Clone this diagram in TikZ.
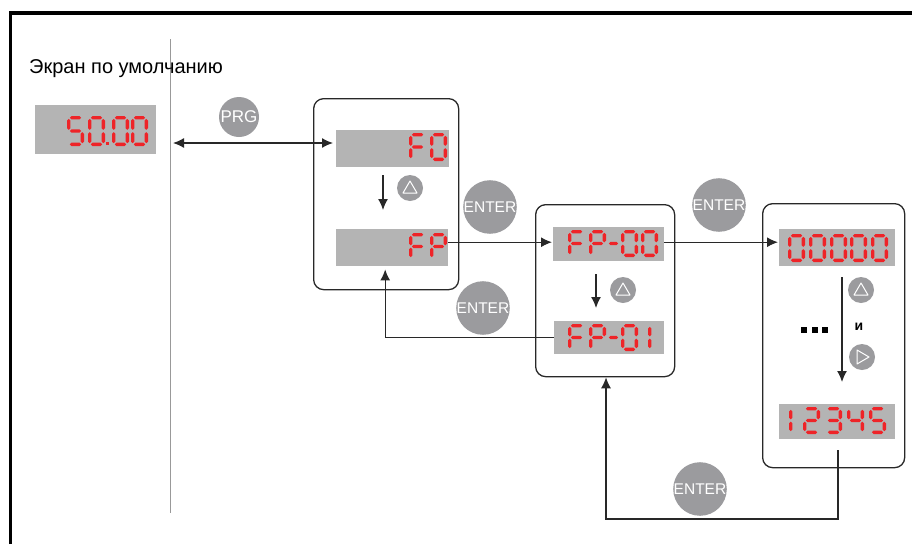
\documentclass[tikz,border=0pt]{standalone}
\usepackage{fontspec}
\setmainfont{Liberation Sans}
\usetikzlibrary{arrows.meta}
\definecolor{segred}{RGB}{238,36,40}
\definecolor{lcd}{RGB}{180,180,180}
\definecolor{btngray}{RGB}{155,155,158}
\definecolor{edge}{RGB}{40,40,40}
\def\sg{1.1}
\def\th{1.7}
% horizontal segment: x1, x2, y ; vertical segment: x, y1, y2
\newcommand\hseg[3]{\fill[segred] (#1,#3) -- (#1+\th,#3-\th) -- (#2-\th,#3-\th) -- (#2,#3) -- (#2-\th,#3+\th) -- (#1+\th,#3+\th) -- cycle;}
\newcommand\vseg[3]{\fill[segred] (#1,#2) -- (#1+\th,#2+\th) -- (#1+\th,#3-\th) -- (#1,#3) -- (#1-\th,#3-\th) -- (#1-\th,#2+\th) -- cycle;}
\newcommand\ssega{\hseg{\sg}{\dw-\sg}{0}}
\newcommand\ssegb{\vseg{\dw}{\sg}{\dm-\sg}}
\newcommand\ssegc{\vseg{\dw}{\dm+\sg}{\dh-\sg}}
\newcommand\ssegd{\hseg{\sg}{\dw-\sg}{\dh}}
\newcommand\ssege{\vseg{0}{\dm+\sg}{\dh-\sg}}
\newcommand\ssegf{\vseg{0}{\sg}{\dm-\sg}}
\newcommand\ssegg{\hseg{\sg}{\dw-\sg}{\dm}}
\newcommand\sevseg[5]{%
  \begin{scope}[shift={(#1+1.7,#2+1.7)}]
    \pgfmathsetmacro\dw{#3-3.4}\pgfmathsetmacro\dh{#4-3.4}\pgfmathsetmacro\dm{\dh/2}
    \foreach \s in {#5}{\csname sseg\s\endcsname}
  \end{scope}}
\newcommand\uptri[1]{\draw[tri] ([shift={(-7,5)}]#1.center) -- ++(14,0) -- ++(-7,-12) -- cycle;}
\newcommand\righttri[1]{\draw[tri] ([shift={(-5,-7)}]#1.center) -- ++(0,14) -- ++(12,-7) -- cycle;}
\begin{document}
\begin{tikzpicture}[x=1pt,y=-1pt,
  lcdbox/.style={fill=lcd, inner sep=0, anchor=north west},
  panel/.style={draw=edge, line width=1.3pt, rounded corners=10pt, inner sep=0, anchor=north west},
  btn/.style={circle, fill=btngray, text=white, inner sep=0},
  prgbtn/.style={btn, minimum size=40pt, font=\fontsize{17}{20}\selectfont},
  entbtn/.style={btn, minimum size=50pt, font=\fontsize{15.5}{18}\selectfont},
  smallbtn/.style={btn, minimum size=26pt},
  tri/.style={draw=white, line width=1pt, line join=round},
  tip/.tip={Latex[length=11pt,width=10pt]},
  arr/.style={draw=edge, line width=1.3pt, -tip},
  darr/.style={draw=edge, line width=1.3pt, tip-tip}]
\useasboundingbox (0,0) rectangle (912,544);
% frame
\draw[line width=3.5pt] (10.5,544) -- (10.5,13) -- (912,13);
% separator
\draw[gray!80, line width=1pt] (170,39) -- (170,513);
% title
\node[anchor=base west, inner sep=0, font=\fontsize{20}{24}\selectfont] (title) at (29,73) {Экран по умолчанию};
% displays and panels
\node[lcdbox, minimum width=121pt, minimum height=49pt] (def) at (35,105) {};
\node[panel, minimum width=145pt, minimum height=191pt] (box1) at (313,98) {};
\node[lcdbox, minimum width=113pt, minimum height=37pt] (F0) at (336,130) {};
\node[lcdbox, minimum width=112pt, minimum height=37pt] (FP) at (336,229) {};
\node[panel, minimum width=139pt, minimum height=172pt] (box2) at (535,204) {};
\node[lcdbox, minimum width=111pt, minimum height=34pt] (FP00) at (553,227) {};
\node[lcdbox, minimum width=110pt, minimum height=33pt] (FP01) at (554,321) {};
\node[panel, minimum width=142pt, minimum height=264pt] (box3) at (762,203) {};
\node[lcdbox, minimum width=116pt, minimum height=37pt] (Z) at (779,229) {};
\node[lcdbox, minimum width=116pt, minimum height=35pt] (N) at (779,404) {};
% digits 50.00
\sevseg{67}{116}{17}{30}{a,f,g,c,d}
\sevseg{88}{116}{17}{30}{a,b,c,d,e,f}
\fill[segred] (106,142) rectangle (109,145);
\sevseg{112}{116}{17}{30}{a,b,c,d,e,f}
\sevseg{131}{116}{17}{30}{a,b,c,d,e,f}
% F0
\sevseg{409}{133}{17}{28}{a,f,e,g}
\sevseg{430}{133}{17}{28}{a,b,c,d,e,f}
% FP
\sevseg{409}{233}{17}{27}{a,f,e,g}
\sevseg{430}{233}{17}{27}{a,b,f,g,e}
% FP-00
\sevseg{568}{230}{17}{27}{a,f,e,g}
\sevseg{589}{230}{17}{27}{a,b,f,g,e}
\sevseg{606}{230}{15}{27}{g}
\sevseg{621}{230}{17}{27}{a,b,c,d,e,f}
\sevseg{641}{230}{17}{27}{a,b,c,d,e,f}
% FP-01
\sevseg{568}{324}{17}{27}{a,f,e,g}
\sevseg{589}{324}{17}{27}{a,b,f,g,e}
\sevseg{606}{324}{15}{27}{g}
\sevseg{621}{324}{17}{27}{a,b,c,d,e,f}
\sevseg{648}{324}{17}{27}{e,f}
% 00000
\sevseg{788}{234}{17}{28}{a,b,c,d,e,f}
\sevseg{809}{234}{17}{28}{a,b,c,d,e,f}
\sevseg{830}{234}{17}{28}{a,b,c,d,e,f}
\sevseg{850}{234}{17}{28}{a,b,c,d,e,f}
\sevseg{871}{234}{17}{28}{a,b,c,d,e,f}
% 12345
\sevseg{789}{407}{17}{27}{e,f}
\sevseg{803}{407}{17}{27}{a,b,g,e,d}
\sevseg{825}{407}{17}{27}{a,b,g,c,d}
\sevseg{847}{407}{17}{27}{f,g,b,c}
\sevseg{869}{407}{17}{27}{a,f,g,c,d}
% buttons
\node[prgbtn] (prg) at (239,117) {PRG};
\node[entbtn] (ent1) at (490,207) {ENTER};
\node[entbtn] (ent2) at (483,308) {ENTER};
\node[entbtn] (ent3) at (719,205) {ENTER};
\node[entbtn] (ent4) at (700,489) {ENTER};
\node[smallbtn] (up1) at (410,188) {};
\node[smallbtn] (up2) at (623,290) {};
\node[smallbtn] (up3) at (861,290) {};
\node[smallbtn] (rt) at (862,357) {};
\uptri{up1}\uptri{up2}\uptri{up3}\righttri{rt}
\node[font=\bfseries\fontsize{14}{16}\selectfont, inner sep=0] (und) at (859,327) {и};
\fill (801,327) rectangle ++(6,6);
\fill (811.5,327) rectangle ++(6,6);
\fill (822,327) rectangle ++(6,6);
% connectors
\coordinate (L) at (173,143);
\draw[darr, shorten >=3pt] (L) -- (L -| F0.west);
\draw[arr, shorten >=1pt] ([yshift=5.5pt]FP.east) -- ([yshift=5.5pt]FP.east -| FP00.west);
\draw[arr, shorten >=1pt] ([yshift=2pt]FP00.east) -- ([yshift=2pt]FP00.east -| Z.west);
\draw[arr, shorten >=3pt] (FP01.west) -| ([xshift=-7pt]FP.south);
\coordinate (a1s) at (383,175); \coordinate (a1e) at (383,210);
\coordinate (a2s) at (596,274); \coordinate (a2e) at (596,308);
\coordinate (a3s) at (842,277); \coordinate (a3e) at (842,382);
\draw[arr] (a1s) -- (a1e);
\draw[arr] (a2s) -- (a2e);
\draw[arr] (a3s) -- (a3e);
\coordinate (c5) at (838,450);
\coordinate (cb) at (606,519);
\draw[arr] (c5) |- (cb) -- (cb |- box2.south);
\end{tikzpicture}
\end{document}
